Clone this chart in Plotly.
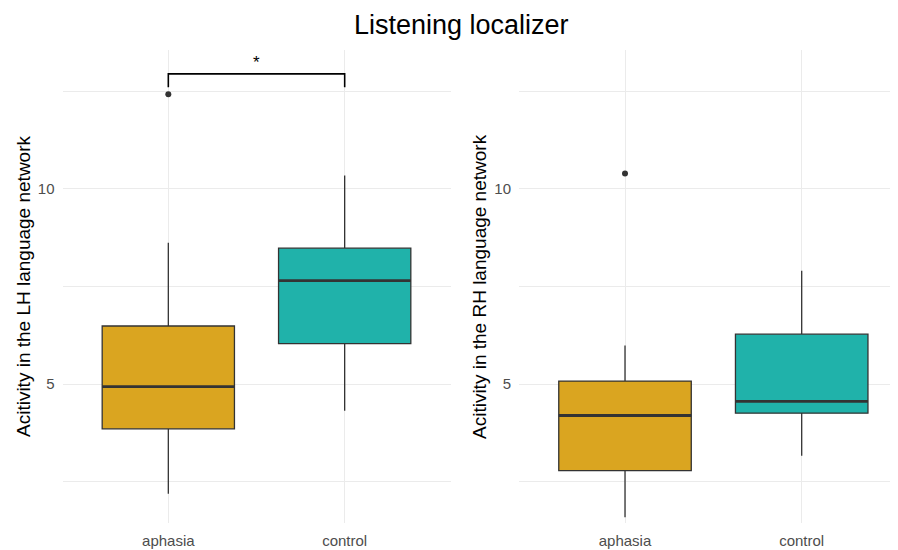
import plotly.graph_objects as go

# ---- data ----
groups = ["aphasia", "control"]
positions = [1, 2]
colors = ["#DAA520", "#20B2AA"]

# Left hemisphere (LH)
lh_lower = [2.20, 4.32]
lh_q1 = [3.86, 6.04]
lh_median = [4.94, 7.65]
lh_q3 = [6.49, 8.48]
lh_upper = [8.62, 10.34]
lh_outliers = [[12.42], []]

# Right hemisphere (RH)
rh_lower = [1.60, 3.17]
rh_q1 = [2.79, 4.26]
rh_median = [4.20, 4.56]
rh_q3 = [5.08, 6.28]
rh_upper = [5.99, 7.90]
rh_outliers = [[10.39], []]

# significance bracket (LH panel)
bracket_top = 12.94
bracket_tip = 12.60
star_y = 13.22
star_label = "*"

y_major = [5, 10]
y_minor = [2.5, 7.5, 12.5]

box_width = 0.75
# page is 898x550 but the body has an 8px default margin
OFF = 8
W, H = 898 - OFF, 550 - OFF
line_col = "#333333"
font_family = "Liberation Sans, Arial, sans-serif"


def fx(p):
    return (p - OFF) / W


def fy(p):
    return (H - (p - OFF)) / H


fig = go.Figure()


def add_panel(xa, ya, lower, q1, med, q3, upper, outliers):
    for i, g in enumerate(groups):
        fig.add_trace(go.Box(
            x=[positions[i]], q1=[q1[i]], median=[med[i]], q3=[q3[i]],
            lowerfence=[lower[i]], upperfence=[upper[i]],
            width=box_width, whiskerwidth=0, boxpoints=False,
            fillcolor=colors[i], line=dict(color=line_col, width=1.3),
            xaxis=xa, yaxis=ya, showlegend=False, name=g,
        ))
        # thicker median line (ggplot style)
        fig.add_trace(go.Scatter(
            x=[positions[i] - box_width / 2, positions[i] + box_width / 2],
            y=[med[i], med[i]], mode="lines",
            line=dict(color=line_col, width=2.8),
            xaxis=xa, yaxis=ya, showlegend=False, hoverinfo="skip",
        ))
        if outliers[i]:
            fig.add_trace(go.Scatter(
                x=[positions[i]] * len(outliers[i]), y=outliers[i],
                mode="markers", marker=dict(color=line_col, size=6),
                xaxis=xa, yaxis=ya, showlegend=False,
            ))


add_panel("x", "y", lh_lower, lh_q1, lh_median, lh_q3, lh_upper, lh_outliers)
add_panel("x2", "y2", rh_lower, rh_q1, rh_median, rh_q3, rh_upper, rh_outliers)

# bracket
fig.add_trace(go.Scatter(
    x=[positions[0], positions[0], positions[1], positions[1]],
    y=[bracket_tip, bracket_top, bracket_top, bracket_tip],
    mode="lines", line=dict(color="black", width=1.6),
    xaxis="x", yaxis="y", showlegend=False, hoverinfo="skip",
))
fig.add_annotation(
    x=(positions[0] + positions[1]) / 2, y=star_y, xref="x", yref="y",
    text=star_label, showarrow=False, font=dict(size=17, color="black", family=font_family),
)

grid_col = "#EBEBEB"
xcommon = dict(
    tickvals=positions, ticktext=groups, showgrid=True, gridcolor=grid_col, gridwidth=1.2,
    zeroline=False, showline=False, ticks="outside", ticklen=4, tickcolor="rgba(0,0,0,0)",
    tickfont=dict(size=15, color="#4D4D4D", family=font_family),
)
ycommon = dict(
    range=[1.45, 13.55], tickvals=y_major, showgrid=True, gridcolor=grid_col, gridwidth=1.2,
    zeroline=False, showline=False, ticks="outside", ticklen=4, tickcolor="rgba(0,0,0,0)",
    tickfont=dict(size=15, color="#4D4D4D", family=font_family),
    minor=dict(tickvals=y_minor, showgrid=True, gridcolor=grid_col, gridwidth=0.8, ticks=""),
)
ydom = [fy(523), fy(50)]

fig.update_layout(
    width=W, height=H,
    margin=dict(l=0, r=0, t=0, b=0),
    paper_bgcolor="white", plot_bgcolor="white",
    boxmode="overlay",
    font=dict(family=font_family),
    xaxis=dict(domain=[fx(62.5), fx(450.5)], range=[0.4, 2.6], anchor="y", **xcommon),
    yaxis=dict(domain=ydom, anchor="x", **ycommon),
    xaxis2=dict(domain=[fx(519), 1.0], range=[0.4, 2.545], anchor="y2", **xcommon),
    yaxis2=dict(domain=ydom, anchor="x2", **ycommon),
)

fig.add_annotation(
    x=fx(461), y=fy(25), xref="paper", yref="paper", xanchor="center", yanchor="middle",
    text="Listening localizer", showarrow=False,
    font=dict(size=27, color="black", family=font_family),
)
fig.add_annotation(
    x=fx(23), y=fy(287), xref="paper", yref="paper", xanchor="center", yanchor="middle",
    text="Acitivity in the LH language network", textangle=-90, showarrow=False,
    font=dict(size=19, color="black", family=font_family),
)
fig.add_annotation(
    x=fx(479), y=fy(287), xref="paper", yref="paper", xanchor="center", yanchor="middle",
    text="Acitivity in the RH language network", textangle=-90, showarrow=False,
    font=dict(size=19, color="black", family=font_family),
)

fig.write_html("out.html")
